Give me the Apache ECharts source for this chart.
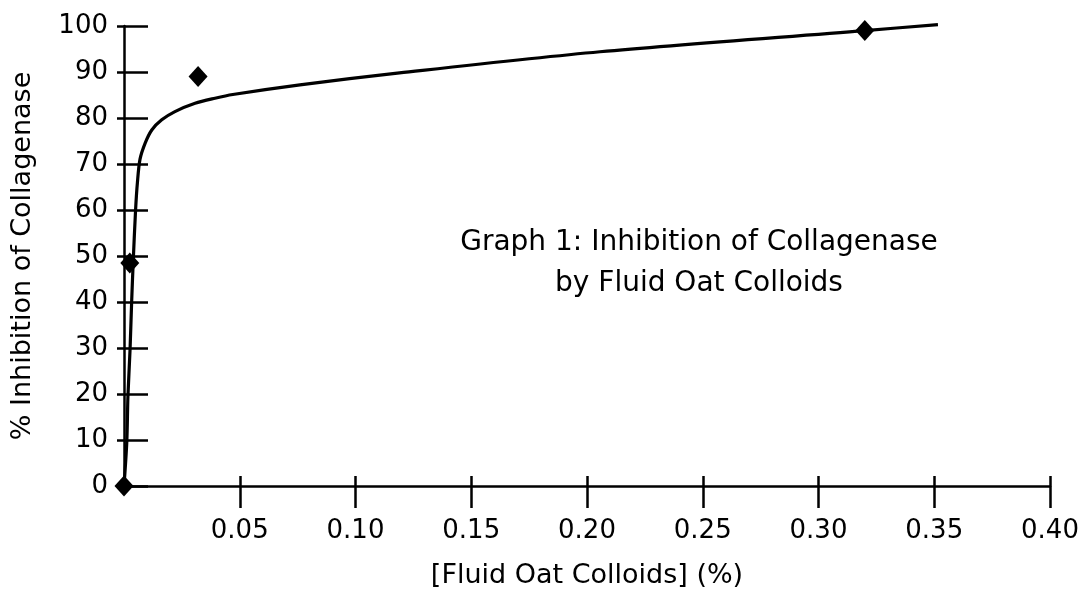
<!DOCTYPE html>
<html>
<head>
<meta charset="utf-8">
<script src="https://cdn.jsdelivr.net/npm/echarts@6/dist/echarts.min.js"></script>
<style>
  html, body { margin: 0; padding: 0; background: #fff; }
  #main { width: 1089px; height: 605px; }
</style>
</head>
<body>
<div id="main"></div>
<script>
// measured points (diamonds)
const pointX = [0, 0.0025, 0.032, 0.32];
const pointY = [0, 48.5, 89, 99];

// fitted curve
const curveX = [0, 0.0012, 0.0017, 0.0026, 0.0033, 0.0040, 0.0050, 0.0058, 0.0069, 0.0091, 0.012, 0.0163, 0.022, 0.0307, 0.0393, 0.047, 0.076, 0.119, 0.2056, 0.32, 0.3516];
const curveY = [0, 9.5, 19.5, 29.5, 40, 49, 60, 66, 71, 74.5, 77.4, 79.6, 81.4, 83.2, 84.3, 85.1, 87.2, 89.8, 94.4, 99, 100.3];

const FONT = 'DejaVu Sans';
const gridBox = { left: 124, right: 39, top: 26, bottom: 119 };

const myChart = echarts.init(document.getElementById('main'));

myChart.setOption({
  animation: false,
  backgroundColor: '#fff',
  grid: [
    Object.assign({}, gridBox),
    Object.assign({}, gridBox)
  ],
  xAxis: [
    {
      type: 'value',
      gridIndex: 0,
      min: 0,
      max: 0.4,
      interval: 0.05,
      name: '[Fluid Oat Colloids] (%)',
      nameLocation: 'middle',
      nameGap: 76,
      nameTextStyle: { color: '#000', fontFamily: FONT, fontSize: 27 },
      axisLine: { lineStyle: { color: '#000', width: 2.5 } },
      axisTick: { inside: false, length: 22, lineStyle: { color: '#000', width: 2.5 } },
      axisLabel: {
        color: '#000', fontFamily: FONT, fontSize: 26, margin: 32,
        showMinLabel: false,
        formatter: v => v.toFixed(2)
      },
      splitLine: { show: false }
    },
    {
      // second copy only for the inner part of the crossing ticks
      type: 'value',
      gridIndex: 1,
      min: 0,
      max: 0.4,
      interval: 0.05,
      axisLine: { show: false },
      axisTick: { inside: true, length: 10, lineStyle: { color: '#000', width: 2.5 } },
      axisLabel: { show: false },
      splitLine: { show: false }
    }
  ],
  yAxis: [
    {
      type: 'value',
      gridIndex: 0,
      min: 0,
      max: 100,
      interval: 10,
      name: '% Inhibition of Collagenase',
      nameLocation: 'middle',
      nameGap: 88,
      nameTextStyle: { color: '#000', fontFamily: FONT, fontSize: 27 },
      axisLine: { show: true, lineStyle: { color: '#000', width: 2.5 } },
      axisTick: { show: true, inside: false, length: 7, lineStyle: { color: '#000', width: 2.5 } },
      axisLabel: { color: '#000', fontFamily: FONT, fontSize: 26, margin: 16 },
      splitLine: { show: false }
    },
    {
      type: 'value',
      gridIndex: 1,
      min: 0,
      max: 100,
      interval: 10,
      axisLine: { show: false },
      axisTick: { show: true, inside: true, length: 24, lineStyle: { color: '#000', width: 2.5 } },
      axisLabel: { show: false },
      splitLine: { show: false }
    }
  ],
  graphic: [
    {
      type: 'text',
      x: 699,
      y: 222,
      style: {
        text: 'Graph 1: Inhibition of Collagenase\nby Fluid Oat Colloids',
        fill: '#000',
        font: '28px "DejaVu Sans"',
        align: 'center',
        textAlign: 'center',
        lineHeight: 41
      }
    }
  ],
  series: [
    {
      name: 'fit',
      type: 'line',
      xAxisIndex: 0,
      yAxisIndex: 0,
      smooth: 0.3,
      showSymbol: false,
      clip: false,
      lineStyle: { color: '#000', width: 3.2 },
      data: curveX.map((x, i) => [x, curveY[i]])
    },
    {
      name: 'measured',
      type: 'scatter',
      xAxisIndex: 0,
      yAxisIndex: 0,
      symbol: 'diamond',
      symbolSize: [19, 21],
      clip: false,
      itemStyle: { color: '#000', opacity: 1 },
      data: pointX.map((x, i) => [x, pointY[i]])
    }
  ]
});
</script>
</body>
</html>
